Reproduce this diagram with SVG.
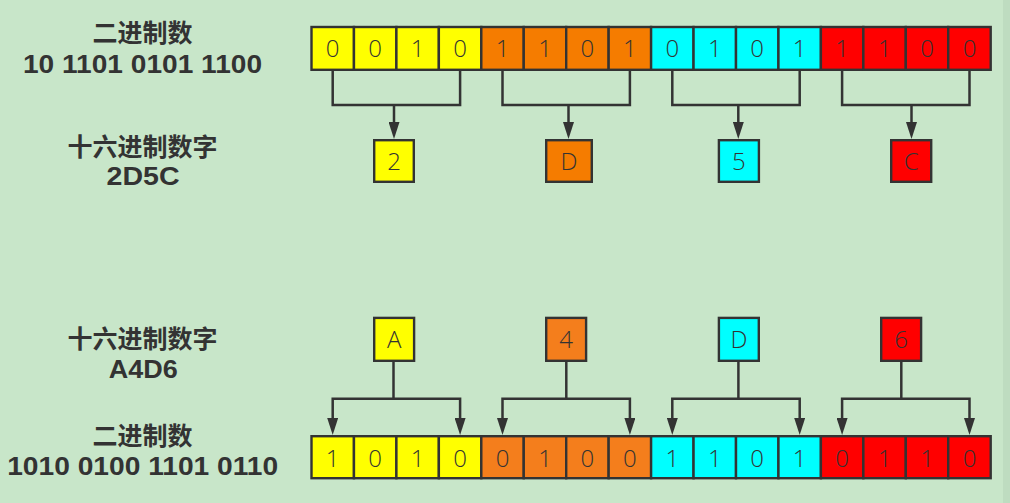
<svg xmlns="http://www.w3.org/2000/svg" width="1010" height="503" viewBox="0 0 1010 503">
  <style>
    .bg { fill: #C8E6C9; }
    .edge { fill: #BEDCC0; }
    .cell, .hex { stroke: #333333; stroke-width: 2.4; }
    .y { fill: #FFFF00; }
    .o { fill: #F57C00; }
    .o2 { fill: #F47E1C; }
    .c { fill: #00FFFF; }
    .r { fill: #FF0000; }
    .bit { font-family: "Open Sans", "Noto Sans", "DejaVu Sans", sans-serif; font-weight: 350; font-size: 24px; fill: #333333; text-anchor: middle; }
    .label { font-family: "Liberation Sans", "Noto Sans CJK SC", sans-serif; font-weight: 700; font-size: 25px; fill: #333333; text-anchor: middle; }
    .conn { fill: none; stroke: #333333; stroke-width: 2.5; }
  </style>
  <defs>
    <marker id="arrow" viewBox="0 0 17 11" markerWidth="17" markerHeight="11" refX="9" refY="5.5" orient="auto-start-reverse" markerUnits="userSpaceOnUse">
      <path d="M0,0 L17,5.5 L0,11 Z" fill="#333333"/>
    </marker>
  </defs>

  <rect class="bg" x="0" y="0" width="1010" height="503"/>
  <rect class="edge" x="1003" y="0" width="7" height="503"/>

  <!-- left-hand captions, two lines each -->
  <g id="caption-bin-top">
    <text class="label"><tspan x="142.5" y="41.5">二进制数</tspan><tspan x="142.5" y="72.5" textLength="239" lengthAdjust="spacingAndGlyphs">10 1101 0101 1100</tspan></text>
  </g>
  <g id="caption-hex-top">
    <text class="label"><tspan x="142.5" y="156.3">十六进制数字</tspan><tspan x="143" y="184.6" textLength="73" lengthAdjust="spacingAndGlyphs">2D5C</tspan></text>
  </g>
  <g id="caption-hex-bottom">
    <text class="label"><tspan x="142.5" y="348.1">十六进制数字</tspan><tspan x="143.3" y="378.2" textLength="69" lengthAdjust="spacingAndGlyphs">A4D6</tspan></text>
  </g>
  <g id="caption-bin-bottom">
    <text class="label"><tspan x="142.5" y="444.5">二进制数</tspan><tspan x="142.7" y="475" textLength="271" lengthAdjust="spacingAndGlyphs">1010 0100 1101 0110</tspan></text>
  </g>

  <!-- top binary row: 0010 1101 0101 1100 -->
  <g id="bits-top">
    <g id="bits-top-0">
      <rect class="cell y" x="311.5" y="27" width="42.45" height="42.8"/>
      <rect class="cell y" x="353.95" y="27" width="42.45" height="42.8"/>
      <rect class="cell y" x="396.4" y="27" width="42.45" height="42.8"/>
      <rect class="cell y" x="438.85" y="27" width="42.45" height="42.8"/>
      <text class="bit" x="332.7" y="57.3">0</text>
      <text class="bit" x="375.2" y="57.3">0</text>
      <text class="bit" x="417.6" y="57.3">1</text>
      <text class="bit" x="460.1" y="57.3">0</text>
    </g>
    <g id="bits-top-1">
      <rect class="cell o" x="481.3" y="27" width="42.45" height="42.8"/>
      <rect class="cell o" x="523.75" y="27" width="42.45" height="42.8"/>
      <rect class="cell o" x="566.2" y="27" width="42.45" height="42.8"/>
      <rect class="cell o" x="608.65" y="27" width="42.45" height="42.8"/>
      <text class="bit" x="502.5" y="57.3">1</text>
      <text class="bit" x="545" y="57.3">1</text>
      <text class="bit" x="587.4" y="57.3">0</text>
      <text class="bit" x="629.9" y="57.3">1</text>
    </g>
    <g id="bits-top-2">
      <rect class="cell c" x="651.1" y="27" width="42.45" height="42.8"/>
      <rect class="cell c" x="693.55" y="27" width="42.45" height="42.8"/>
      <rect class="cell c" x="736" y="27" width="42.45" height="42.8"/>
      <rect class="cell c" x="778.45" y="27" width="42.45" height="42.8"/>
      <text class="bit" x="672.3" y="57.3">0</text>
      <text class="bit" x="714.8" y="57.3">1</text>
      <text class="bit" x="757.2" y="57.3">0</text>
      <text class="bit" x="799.7" y="57.3">1</text>
    </g>
    <g id="bits-top-3">
      <rect class="cell r" x="820.9" y="27" width="42.45" height="42.8"/>
      <rect class="cell r" x="863.35" y="27" width="42.45" height="42.8"/>
      <rect class="cell r" x="905.8" y="27" width="42.45" height="42.8"/>
      <rect class="cell r" x="948.25" y="27" width="42.45" height="42.8"/>
      <text class="bit" x="842.1" y="57.3">1</text>
      <text class="bit" x="884.6" y="57.3">1</text>
      <text class="bit" x="927" y="57.3">0</text>
      <text class="bit" x="969.5" y="57.3">0</text>
    </g>
  </g>

  <!-- top hex digits -->
  <g id="hex-top-2">
    <rect class="hex y" x="374.2" y="140.2" width="39.6" height="41.6"/>
    <text class="bit" x="394.2" y="170">2</text>
  </g>
  <g id="hex-top-D">
    <rect class="hex o" x="546.2" y="140.2" width="45.6" height="41.6"/>
    <text class="bit" x="569" y="170">D</text>
  </g>
  <g id="hex-top-5">
    <rect class="hex c" x="718.9" y="140.2" width="40" height="41.6"/>
    <text class="bit" x="738.9" y="170">5</text>
  </g>
  <g id="hex-top-C">
    <rect class="hex r" x="891.2" y="140.2" width="40" height="41.6"/>
    <text class="bit" x="911.2" y="170">C</text>
  </g>

  <!-- bottom hex digits -->
  <g id="hex-bottom-A">
    <rect class="hex y" x="374.2" y="317.9" width="39.9" height="42.9"/>
    <text class="bit" x="394.2" y="348.3">A</text>
  </g>
  <g id="hex-bottom-4">
    <rect class="hex o2" x="546.2" y="317.9" width="39.9" height="42.9"/>
    <text class="bit" x="566.2" y="348.3">4</text>
  </g>
  <g id="hex-bottom-D">
    <rect class="hex c" x="718.9" y="317.9" width="39.9" height="42.9"/>
    <text class="bit" x="738.9" y="348.3">D</text>
  </g>
  <g id="hex-bottom-6">
    <rect class="hex r" x="881.2" y="317.9" width="39.9" height="42.9"/>
    <text class="bit" x="901.2" y="348.3">6</text>
  </g>

  <!-- bottom binary row: 1010 0100 1101 0110 -->
  <g id="bits-bottom">
    <g id="bits-bottom-0">
      <rect class="cell y" x="311.5" y="436.2" width="42.45" height="42"/>
      <rect class="cell y" x="353.95" y="436.2" width="42.45" height="42"/>
      <rect class="cell y" x="396.4" y="436.2" width="42.45" height="42"/>
      <rect class="cell y" x="438.85" y="436.2" width="42.45" height="42"/>
      <text class="bit" x="332.7" y="466.7">1</text>
      <text class="bit" x="375.2" y="466.7">0</text>
      <text class="bit" x="417.6" y="466.7">1</text>
      <text class="bit" x="460.1" y="466.7">0</text>
    </g>
    <g id="bits-bottom-1">
      <rect class="cell o2" x="481.3" y="436.2" width="42.45" height="42"/>
      <rect class="cell o2" x="523.75" y="436.2" width="42.45" height="42"/>
      <rect class="cell o2" x="566.2" y="436.2" width="42.45" height="42"/>
      <rect class="cell o2" x="608.65" y="436.2" width="42.45" height="42"/>
      <text class="bit" x="502.5" y="466.7">0</text>
      <text class="bit" x="545" y="466.7">1</text>
      <text class="bit" x="587.4" y="466.7">0</text>
      <text class="bit" x="629.9" y="466.7">0</text>
    </g>
    <g id="bits-bottom-2">
      <rect class="cell c" x="651.1" y="436.2" width="42.45" height="42"/>
      <rect class="cell c" x="693.55" y="436.2" width="42.45" height="42"/>
      <rect class="cell c" x="736" y="436.2" width="42.45" height="42"/>
      <rect class="cell c" x="778.45" y="436.2" width="42.45" height="42"/>
      <text class="bit" x="672.3" y="466.7">1</text>
      <text class="bit" x="714.8" y="466.7">1</text>
      <text class="bit" x="757.2" y="466.7">0</text>
      <text class="bit" x="799.7" y="466.7">1</text>
    </g>
    <g id="bits-bottom-3">
      <rect class="cell r" x="820.9" y="436.2" width="42.45" height="42"/>
      <rect class="cell r" x="863.35" y="436.2" width="42.45" height="42"/>
      <rect class="cell r" x="905.8" y="436.2" width="42.45" height="42"/>
      <rect class="cell r" x="948.25" y="436.2" width="42.45" height="42"/>
      <text class="bit" x="842.1" y="466.7">0</text>
      <text class="bit" x="884.6" y="466.7">1</text>
      <text class="bit" x="927" y="466.7">1</text>
      <text class="bit" x="969.5" y="466.7">0</text>
    </g>
  </g>

  <!-- connectors -->
  <g id="connectors">
    <!-- top: each nibble gathers into one hex digit -->
    <path class="conn" d="M332.7,71 V105 H460.1 V71"/>
    <path class="conn" d="M394,105 V131" marker-end="url(#arrow)"/>
    <path class="conn" d="M502.5,71 V105 H629.9 V71"/>
    <path class="conn" d="M568.5,105 V131" marker-end="url(#arrow)"/>
    <path class="conn" d="M672.3,71 V105 H799.7 V71"/>
    <path class="conn" d="M738.3,105 V131" marker-end="url(#arrow)"/>
    <path class="conn" d="M842.1,71 V105 H969.5 V71"/>
    <path class="conn" d="M911.5,105 V131" marker-end="url(#arrow)"/>

    <!-- bottom: each hex digit spreads over one nibble -->
    <path class="conn" d="M393.5,362 V398.7"/>
    <path class="conn" d="M332.7,427 V398.7 H460.1 V427" marker-start="url(#arrow)" marker-end="url(#arrow)"/>
    <path class="conn" d="M566.3,362 V398.7"/>
    <path class="conn" d="M502.5,427 V398.7 H629.9 V427" marker-start="url(#arrow)" marker-end="url(#arrow)"/>
    <path class="conn" d="M738.4,362 V398.7"/>
    <path class="conn" d="M672.3,427 V398.7 H799.7 V427" marker-start="url(#arrow)" marker-end="url(#arrow)"/>
    <path class="conn" d="M901.3,362 V398.7"/>
    <path class="conn" d="M842.1,427 V398.7 H969.5 V427" marker-start="url(#arrow)" marker-end="url(#arrow)"/>
  </g>
</svg>
